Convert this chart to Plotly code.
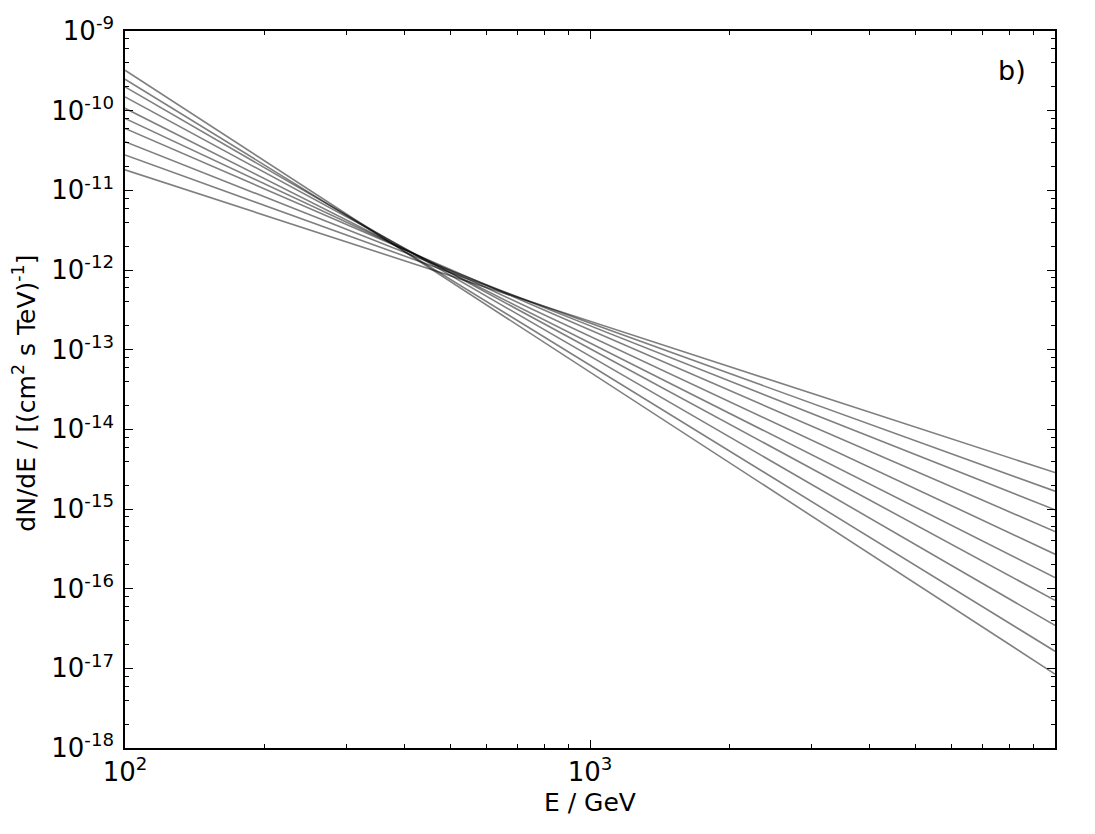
import numpy as np
import plotly.graph_objects as go

# Power-law spectra: flux at 100 GeV and spectral index
flux_100GeV = [3.22e-10, 2.48e-10, 1.99e-10, 1.49e-10, 1.07e-10,
               8.0e-11, 5.98e-11, 4.08e-11, 2.78e-11, 1.81e-11]
spectral_index = [3.79, 3.59, 3.38, 3.16, 2.945, 2.735, 2.53, 2.31, 2.11, 1.90]

energy_grid = np.logspace(2, 4, 60)  # GeV

x_tickvals = [1e2, 1e3]
x_ticktext = ["10<sup>2</sup>", "10<sup>3</sup>"]
y_exponents = list(range(-9, -19, -1))
y_tickvals = [10.0 ** e for e in y_exponents]
y_ticktext = [f"10<sup>{e}</sup>" for e in y_exponents]

x_minor = [m * 10.0 ** d for d in (2, 3) for m in range(2, 10)]
y_minor = [m * 10.0 ** d for d in range(-18, -9) for m in (2, 4, 6, 8)]

fig = go.Figure()
for f0, g in zip(flux_100GeV, spectral_index):
    fig.add_trace(go.Scatter(
        x=energy_grid, y=f0 * (energy_grid / 100.0) ** (-g),
        mode="lines", line=dict(color="rgba(0,0,0,0.5)", width=1.6),
        showlegend=False, hoverinfo="skip"))

font = "DejaVu Sans"
fig.update_layout(
    width=1095, height=834,
    margin=dict(l=125, r=40, t=29, b=86),
    paper_bgcolor="white", plot_bgcolor="white",
    font=dict(family=font, size=25, color="black"),
    showlegend=False,
)
fig.update_xaxes(
    type="log", range=[2, 4],
    tickmode="array", tickvals=x_tickvals, ticktext=x_ticktext,
    ticks="inside", ticklen=8, tickwidth=1.2, tickcolor="black",
    showline=True, linecolor="black", linewidth=1.5, mirror="allticks",
    showgrid=False, zeroline=False,
    tickfont=dict(family=font, size=26),
    minor=dict(tickmode="array", tickvals=x_minor, ticks="inside",
               ticklen=4, tickwidth=1, tickcolor="black", showgrid=False),
)
fig.update_yaxes(
    type="log", range=[-18, -9],
    tickmode="array", tickvals=y_tickvals, ticktext=y_ticktext,
    ticks="inside", ticklen=8, tickwidth=1.2, tickcolor="black",
    showline=True, linecolor="black", linewidth=1.5, mirror="allticks",
    showgrid=False, zeroline=False, ticklabelstandoff=4,
    tickfont=dict(family=font, size=26),
    minor=dict(tickmode="array", tickvals=y_minor, ticks="inside",
               ticklen=4, tickwidth=1, tickcolor="black", showgrid=False),
)
fig.add_annotation(text="E / GeV", xref="paper", yref="paper",
                   x=0.5, y=-0.0765, yanchor="middle", showarrow=False,
                   font=dict(family=font, size=25))
fig.add_annotation(text="dN/dE / [(cm<sup>2</sup> s TeV)<sup>-1</sup>]",
                   xref="paper", yref="paper", x=-0.108, xanchor="center",
                   y=0.495, textangle=-90, showarrow=False,
                   font=dict(family=font, size=25))
fig.add_annotation(text="b)", xref="paper", yref="paper",
                   x=0.954, y=0.945, xanchor="center", yanchor="middle",
                   showarrow=False, font=dict(family=font, size=27))

fig.write_html("out.html")
